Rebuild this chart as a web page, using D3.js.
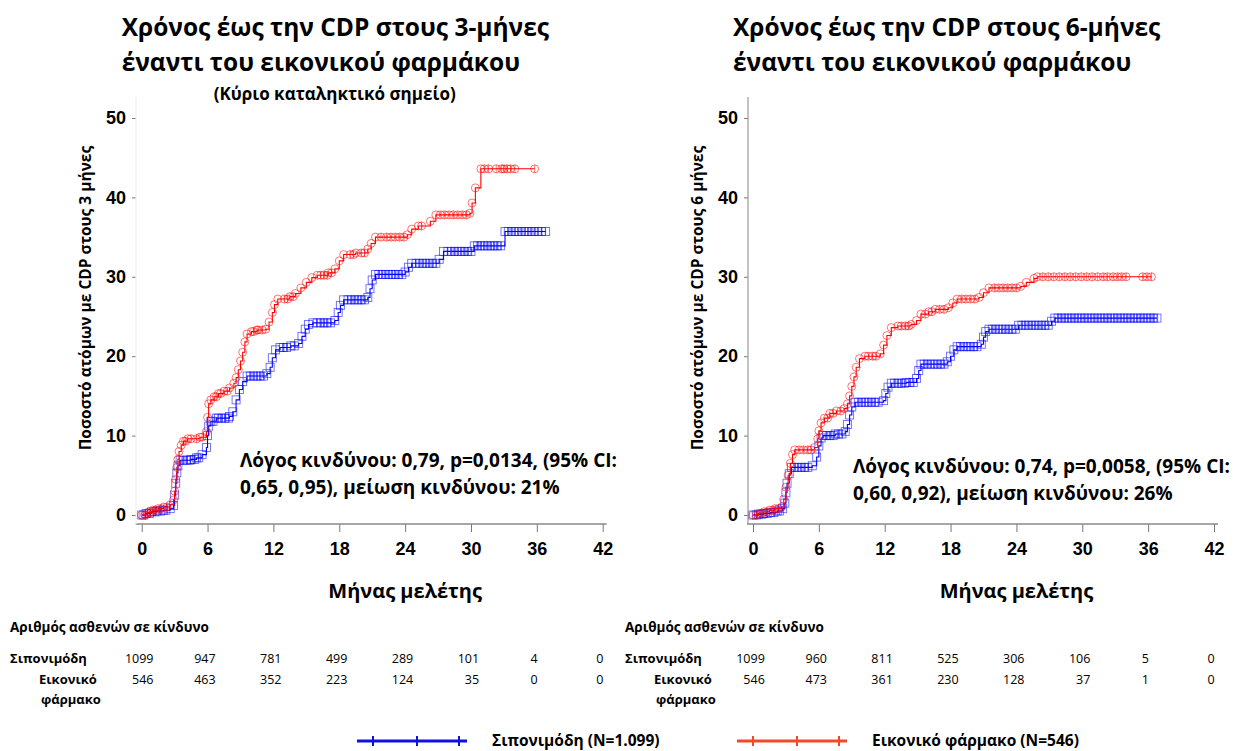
<!DOCTYPE html>
<html>
<head>
<meta charset="utf-8">
<script src="https://cdn.jsdelivr.net/npm/d3@7"></script>
<style>
  body { margin: 0; background: #fff; }
  svg { font-family: "Open Sans", "Noto Sans", sans-serif; }
  .bold { font-weight: 700; }
</style>
</head>
<body>
<svg id="chart" width="1252" height="751"></svg>
<script>
// axis ticks
const months = [0, 6, 12, 18, 24, 30, 36, 42];
const yTicks = [0, 10, 20, 30, 40, 50];

// CDP at 3 months: [month, cumulative %] at each step
const sipo3 = [[0,0],[0.4,0.2],[0.9,0.4],[1.4,0.5],[2.0,0.6],[2.6,0.8],[2.9,1.2],[3.0,2.5],[3.1,4.0],[3.2,5.3],
  [3.3,6.2],[3.5,6.9],[4.5,7.0],[5.0,7.2],[5.5,7.6],[5.9,8.5],[6.0,10.0],[6.1,11.2],[6.3,11.8],[6.8,12.2],
  [8.0,12.4],[8.3,13.0],[8.6,14.5],[8.9,15.8],[9.2,16.8],[9.6,17.5],[11.4,17.8],[11.7,18.6],[11.9,19.8],
  [12.2,20.8],[12.6,21.1],[13.6,21.3],[14.3,21.6],[14.6,22.5],[14.9,23.4],[15.2,24.0],[15.6,24.2],[17.6,24.5],
  [17.9,25.5],[18.1,26.4],[18.4,27.1],[20.6,27.4],[20.8,28.5],[21.0,29.6],[21.3,30.3],[24.0,30.6],[24.3,31.2],
  [24.6,31.7],[27.1,32.2],[27.5,33.2],[30.3,33.9],[33.1,35.7]];
const sipo3End = 36.8;
const sipo3Cens = [0.2,0.7,1.2,1.7,2.2,3.8,4.1,4.4,4.8,5.2,6.5,7.0,7.3,7.6,7.9,9.9,10.2,10.5,10.8,11.1,12.9,13.2,
  13.9,16.0,16.3,16.6,16.9,17.2,18.8,19.1,19.4,19.7,20.0,20.3,21.6,21.9,22.2,22.5,22.8,23.1,23.4,23.7,25.0,25.3,
  25.6,25.9,26.2,26.5,26.8,27.9,28.2,28.5,28.8,29.1,29.4,29.7,30.0,30.6,30.9,31.2,31.5,31.8,32.1,32.4,32.7,33.4,
  33.7,34.0,34.3,34.6,34.9,35.2,35.5,35.8,36.1,36.4,36.8];

const plac3 = [[0,0],[0.5,0.3],[1.0,0.6],[1.5,0.8],[2.0,1.0],[2.6,1.3],[2.9,1.9],[3.0,3.0],[3.1,4.5],[3.2,6.0],
  [3.3,7.0],[3.4,8.0],[3.6,8.8],[3.8,9.3],[4.2,9.6],[5.3,9.8],[5.9,10.5],[6.0,12.3],[6.1,14.0],[6.3,14.5],
  [6.6,14.9],[7.0,15.3],[7.5,15.6],[8.0,16.0],[8.4,16.6],[8.6,17.3],[8.8,18.3],[9.0,19.4],[9.2,20.5],[9.4,21.8],
  [9.6,22.8],[10.0,23.1],[10.5,23.3],[11.3,23.4],[11.6,24.3],[11.9,25.5],[12.1,26.5],[12.4,27.2],[13.5,27.5],
  [14.0,27.9],[14.5,28.6],[15.0,29.3],[15.5,29.9],[16.0,30.2],[17.0,30.5],[17.6,31.0],[18.0,32.0],[18.4,32.8],
  [19.5,33.0],[20.6,33.5],[20.9,34.2],[21.3,35.0],[24.2,35.3],[24.6,36.0],[25.2,36.4],[26.3,37.0],[26.8,37.8],
  [29.9,38.0],[30.1,39.3],[30.4,41.2],[30.9,43.6]];
const plac3End = 35.8;
const plac3Cens = [0.3,0.8,1.3,1.8,2.3,4.0,4.5,5.0,5.5,6.8,7.2,7.8,10.2,10.6,11.0,13.0,13.3,13.8,16.3,16.6,16.9,
  17.3,19.0,19.3,20.0,20.3,21.8,22.3,22.7,23.1,23.5,23.9,25.5,27.2,27.6,28.0,28.4,28.8,29.2,29.6,31.2,31.6,32.3,
  32.8,33.0,33.3,33.6,34.0,35.8];

// CDP at 6 months
const sipo6 = [[0,0],[0.5,0.1],[1.0,0.2],[1.6,0.3],[2.2,0.5],[2.7,0.8],[2.9,1.5],[3.0,2.8],[3.1,4.0],[3.3,5.2],
  [3.5,6.0],[5.4,6.2],[5.8,7.3],[6.0,8.7],[6.2,9.7],[6.4,10.0],[7.5,10.2],[8.4,10.5],[8.6,11.4],[8.8,12.6],
  [9.0,13.6],[9.3,14.2],[11.9,14.4],[12.1,15.3],[12.3,16.1],[12.6,16.6],[14.0,16.7],[14.9,17.2],[15.1,18.2],
  [15.3,19.0],[17.7,19.3],[18.0,20.0],[18.3,20.8],[18.6,21.2],[20.8,21.5],[21.0,22.4],[21.2,23.1],[21.5,23.4],
  [24.2,23.9],[27.2,24.4],[27.5,24.8]];
const sipo6End = 36.8;
const sipo6Cens = [0.3,0.8,1.3,1.9,2.4,3.8,4.1,4.4,4.7,5.0,6.7,7.0,7.3,7.8,8.1,9.6,9.9,10.2,10.5,10.8,11.1,11.4,
  12.9,13.2,13.5,13.8,14.3,14.6,15.6,15.9,16.2,16.5,16.8,17.1,17.4,18.9,19.2,19.5,19.8,20.1,20.4,21.8,22.1,22.4,
  22.7,23.0,23.3,23.6,23.9,24.5,24.8,25.1,25.4,25.7,26.0,26.3,26.6,26.9,27.8,28.1,28.4,28.7,29.0,29.3,29.6,29.9,
  30.2,30.5,30.8,31.1,31.4,31.7,32.0,32.3,32.6,32.9,33.2,33.5,33.8,34.1,34.4,34.7,35.0,35.3,35.6,35.9,36.2,36.5,36.8];

const plac6 = [[0,0],[0.5,0.2],[1.0,0.4],[1.5,0.6],[2.0,0.8],[2.6,1.0],[2.8,2.0],[3.0,3.5],[3.2,5.0],[3.4,6.5],
  [3.6,7.6],[3.8,8.2],[5.6,8.5],[5.9,9.6],[6.0,10.6],[6.2,11.6],[6.5,12.2],[7.0,12.8],[7.6,13.1],[8.3,13.4],
  [8.6,14.0],[8.8,15.0],[9.0,16.2],[9.2,17.4],[9.4,18.6],[9.7,19.7],[10.2,20.0],[11.6,20.3],[11.9,21.4],
  [12.2,22.6],[12.6,23.6],[13.2,23.8],[14.4,24.0],[14.9,24.5],[15.3,25.3],[16.0,25.6],[16.6,25.9],[17.8,26.1],
  [18.2,26.7],[18.6,27.2],[20.6,27.4],[21.0,28.0],[21.5,28.6],[24.4,28.8],[24.9,29.3],[25.6,29.8],[25.9,30.0]];
const plac6End = 36.3;
const plac6Cens = [0.3,0.8,1.3,1.8,2.3,4.2,4.6,5.0,5.3,6.8,7.3,8.0,10.5,10.9,11.2,13.5,13.9,14.2,15.7,16.3,17.0,
  17.4,19.0,19.4,19.8,20.2,22.0,22.4,22.8,23.2,23.6,24.0,26.4,26.9,27.4,27.9,28.4,28.9,29.4,29.9,30.4,30.9,31.4,
  31.9,32.3,32.8,33.2,33.6,34.0,35.5,35.9,36.3];

// number at risk
const riskSipo3 = [1099, 947, 781, 499, 289, 101, 4, 0];
const riskPlac3 = [546, 463, 352, 223, 124, 35, 0, 0];
const riskSipo6 = [1099, 960, 811, 525, 306, 106, 5, 0];
const riskPlac6 = [546, 473, 361, 230, 128, 37, 1, 0];

const BLUE = "#0000ff", RED = "#ff0000";

const svg = d3.select("#chart");

function valueAt(steps, t) {
  let v = 0;
  steps.forEach(s => { if (s[0] <= t) v = s[1]; });
  return v;
}

function drawPanel(p) {
  const x = d3.scaleLinear().domain([0, 42]).range([p.x0, p.x0 + 461]);
  const y = d3.scaleLinear().domain([0, 50]).range([515, 118]);
  const g = svg.append("g");

  // titles
  g.append("text").attr("class", "bold").attr("x", p.x0 - 20).attr("y", 36)
    .attr("font-size", 24.5).text(p.title1);
  g.append("text").attr("class", "bold").attr("x", p.x0 - 20).attr("y", 71)
    .attr("font-size", 24.5).text("έναντι του εικονικού φαρμάκου");
  if (p.subtitle) {
    g.append("text").attr("class", "bold").attr("x", p.x0 + 193).attr("y", 100)
      .attr("text-anchor", "middle").attr("font-size", 17).text(p.subtitle);
  }

  // x axis
  const xa = g.append("g").attr("transform", "translate(0,524)")
    .call(d3.axisBottom(x).tickValues(months).tickSize(8).tickPadding(10).tickSizeOuter(0));
  xa.select(".domain").remove();
  xa.selectAll(".tick line").attr("stroke", "#777");
  xa.selectAll("text").attr("class", "bold").attr("font-size", 18).attr("fill", "#000");
  g.append("line").attr("x1", x(0) - 6).attr("x2", x(42) + 4).attr("y1", 524).attr("y2", 524)
    .attr("stroke", "#888").attr("stroke-width", 1.5);

  // y axis
  const ya = g.append("g").attr("transform", "translate(" + p.yAxisX + ",0)")
    .call(d3.axisLeft(y).tickValues(yTicks).tickSize(4).tickPadding(6).tickSizeOuter(0));
  ya.select(".domain").remove();
  ya.selectAll(".tick line").attr("stroke", "#777");
  ya.selectAll("text").attr("class", "bold").attr("font-size", 18).attr("fill", "#000");
  g.append("line").attr("x1", p.yAxisX).attr("x2", p.yAxisX).attr("y1", 97).attr("y2", 524)
    .attr("stroke", p.yLineColor).attr("stroke-width", 1.2);

  g.append("text").attr("class", "bold").attr("font-size", 15.5)
    .attr("transform", "translate(" + (p.yAxisX - 45) + ",298) rotate(-90)")
    .attr("text-anchor", "middle").text(p.yLabel);

  g.append("text").attr("class", "bold").attr("font-size", 20)
    .attr("x", x(24)).attr("y", 598).attr("text-anchor", "middle").text("Μήνας μελέτης");

  // curves
  const line = d3.line().curve(d3.curveStepAfter).x(d => x(d[0])).y(d => y(d[1]));
  p.series.forEach(s => {
    const pts = s.steps.concat([[s.end, s.steps[s.steps.length - 1][1]]]);
    g.append("path").datum(pts).attr("fill", "none").attr("stroke", s.color)
      .attr("stroke-width", 1.1).attr("d", line);
    const marks = s.steps.map(d => d[0]).concat(s.cens)
      .map(t => [t, valueAt(s.steps, t)]);
    const mg = g.append("g").attr("stroke", s.color).attr("fill", "none")
      .attr("stroke-opacity", 0.6).attr("stroke-width", 0.9);
    if (s.shape === "circle") {
      mg.selectAll("circle").data(marks).join("circle")
        .attr("cx", d => x(d[0])).attr("cy", d => y(d[1])).attr("r", 4);
    } else {
      mg.selectAll("rect").data(marks).join("rect")
        .attr("x", d => x(d[0]) - 4).attr("y", d => y(d[1]) - 4)
        .attr("width", 8).attr("height", 8);
    }
    mg.selectAll("line").data(s.cens.map(t => [t, valueAt(s.steps, t)])).join("line")
      .attr("x1", d => x(d[0])).attr("x2", d => x(d[0]))
      .attr("y1", d => y(d[1]) - 4).attr("y2", d => y(d[1]) + 4);
  });

  // hazard ratio
  g.append("text").attr("class", "bold").attr("font-size", 19)
    .attr("x", p.hrX).attr("y", p.hrY).text(p.hr1);
  g.append("text").attr("class", "bold").attr("font-size", 19)
    .attr("x", p.hrX).attr("y", p.hrY + 27).text(p.hr2);

  // number at risk table
  g.append("text").attr("class", "bold").attr("font-size", 13.5)
    .attr("x", p.tableX).attr("y", 632).text("Αριθμός ασθενών σε κίνδυνο");
  g.append("text").attr("class", "bold").attr("font-size", 13)
    .attr("x", p.tableX).attr("y", 663).text("Σιπονιμόδη");
  g.append("text").attr("class", "bold").attr("font-size", 13)
    .attr("x", p.tableX + 29).attr("y", 684).text("Εικονικό");
  g.append("text").attr("class", "bold").attr("font-size", 13)
    .attr("x", p.tableX + 31).attr("y", 704).text("φάρμακο");
  months.forEach((m, i) => {
    const w = Math.max(String(p.risk[0][i]).length, String(p.risk[1][i]).length) * 7.4;
    [663, 684].forEach((yy, r) => {
      g.append("text").attr("font-size", 12.5).attr("text-anchor", "end")
        .attr("x", x(m) - 3 + w / 2).attr("y", yy).text(p.risk[r][i]);
    });
  });
}

drawPanel({
  x0: 141.7, yAxisX: 136, yLineColor: "#eeeeee",
  title1: "Χρόνος έως την CDP στους 3-μήνες",
  subtitle: "(Κύριο καταληκτικό σημείο)",
  yLabel: "Ποσοστό ατόμων με CDP στους 3 μήνες",
  series: [
    {steps: sipo3, end: sipo3End, cens: sipo3Cens, color: BLUE, shape: "square"},
    {steps: plac3, end: plac3End, cens: plac3Cens, color: RED, shape: "circle"}
  ],
  hrX: 240, hrY: 467,
  hr1: "Λόγος κινδύνου: 0,79, p=0,0134, (95% CI:",
  hr2: "0,65, 0,95), μείωση κινδύνου: 21%",
  tableX: 10, risk: [riskSipo3, riskPlac3]
});

drawPanel({
  x0: 753, yAxisX: 748, yLineColor: "#999999",
  title1: "Χρόνος έως την CDP στους 6-μήνες",
  subtitle: null,
  yLabel: "Ποσοστό ατόμων με CDP στους 6 μήνες",
  series: [
    {steps: sipo6, end: sipo6End, cens: sipo6Cens, color: BLUE, shape: "square"},
    {steps: plac6, end: plac6End, cens: plac6Cens, color: RED, shape: "circle"}
  ],
  hrX: 853, hrY: 473,
  hr1: "Λόγος κινδύνου: 0,74, p=0,0058, (95% CI:",
  hr2: "0,60, 0,92), μείωση κινδύνου: 26%",
  tableX: 625, risk: [riskSipo6, riskPlac6]
});

// legend
const legend = [
  {label: "Σιπονιμόδη (N=1.099)", color: "#1010e0", x: 357},
  {label: "Εικονικό φάρμακο (N=546)", color: "#f04a2a", x: 737}
];
legend.forEach(l => {
  const lg = svg.append("g").attr("transform", "translate(" + l.x + ",741)");
  lg.append("line").attr("x1", 0).attr("x2", 110).attr("stroke", l.color).attr("stroke-width", 3);
  [16, 60, 102].forEach(t => {
    lg.append("line").attr("x1", t).attr("x2", t).attr("y1", -5).attr("y2", 5)
      .attr("stroke", l.color).attr("stroke-width", 2);
  });
  lg.append("text").attr("class", "bold").attr("font-size", 15.5)
    .attr("x", 135).attr("y", 5).text(l.label);
});
</script>
</body>
</html>
